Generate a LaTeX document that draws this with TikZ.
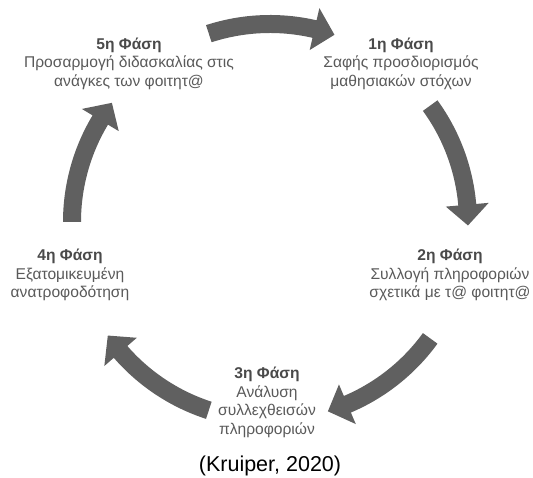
\documentclass[tikz,border=0pt]{standalone}
\usepackage{fontspec}
\setmainfont{Liberation Sans}

\definecolor{arrowgray}{HTML}{606060}
\definecolor{titlegray}{HTML}{4A4A4A}
\definecolor{textgray}{HTML}{5A5A5A}

\tikzset{
    phase/.style={align=center, inner sep=0pt, text=textgray, font=\fontsize{15.6}{18.5}\selectfont},
    cyclearrow/.style={fill=arrowgray}
}
\newcommand{\phasetitle}[1]{\textbf{\color{titlegray}#1}}

\begin{document}
\begin{tikzpicture}[x=1pt, y=1pt]
    \useasboundingbox (0,0) rectangle (533,478);
    \fill [white] (0,0) rectangle (533,478);
    \coordinate (c) at (270,256);
    \foreach \t in {180,108,36,-36,-108}
        \fill [cyclearrow, shift={(c)}] (\t:207) arc [start angle=\t, end angle=\t-31, radius=207]
            -- ({\t-31}:219.5) -- ({\t-37}:198) -- ({\t-31}:176.5)
            -- ({\t-31}:189) arc [start angle=\t-31, end angle=\t, radius=189] -- cycle;
    \node (ph1) [phase] at (401, 414.5) {\phasetitle{1η Φάση}\\Σαφής προσδιορισμός\\μαθησιακών στόχων};
    \node (ph2) [phase] at (450, 203) {\phasetitle{2η Φάση}\\Συλλογή πληροφοριών\\σχετικά με τ@ φοιτητ@};
    \node (ph3) [phase] at (267, 75.5) {\phasetitle{3η Φάση}\\Ανάλυση\\συλλεχθεισών\\πληροφοριών};
    \node (ph4) [phase] at (70, 203) {\phasetitle{4η Φάση}\\Εξατομικευμένη\\ανατροφοδότηση};
    \node (ph5) [phase] at (129, 414.5) {\phasetitle{5η Φάση}\\Προσαρμογή διδασκαλίας στις\\ανάγκες των φοιτητ@};
    \node (src) at (270, 12) {\fontsize{21.5}{24}\selectfont\color{black}(Kruiper, 2020)};
\end{tikzpicture}
\end{document}
